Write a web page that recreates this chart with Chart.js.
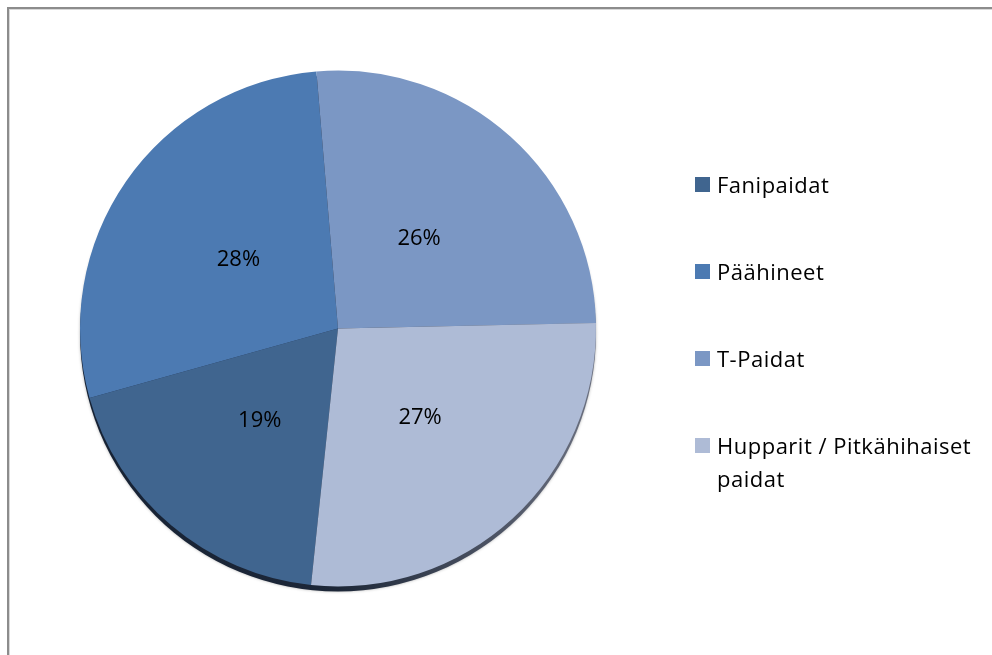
<!DOCTYPE html>
<html>
<head>
<meta charset="utf-8">
<script src="https://cdn.jsdelivr.net/npm/chart.js@4.4.1/dist/chart.umd.min.js"></script>
<style>
  html, body { margin: 0; padding: 0; background: #fff; }
  #wrap { position: relative; width: 992px; height: 655px; overflow: hidden; }
  #frame {
    position: absolute; left: 7px; top: 7px; right: -10px; bottom: -10px;
    border-left: 2px solid #8c8c8c; border-top: 2px solid #8c8c8c;
    box-shadow: inset 1px 1px 0 #d8d8d8;
  }
  #pie { position: absolute; left: 0; top: 0; }
  #legend {
    position: absolute; left: 695px; top: 168px; width: 295px;
    font-family: "Open Sans", sans-serif; font-size: 22px; letter-spacing: 0.5px; color: #000;
  }
  .item { position: relative; padding-left: 22px; line-height: 33px; margin-bottom: 54px; }
  .item span.box {
    position: absolute; left: 0; top: 9px; width: 15px; height: 15px;
  }
</style>
</head>
<body>
<div id="wrap">
  <div id="frame"></div>
  <canvas id="pie" width="992" height="655"></canvas>
  <div id="legend"></div>
</div>
<script>
const categories = ['Fanipaidat', 'Päähineet', 'T-Paidat', 'Hupparit / Pitkähihaiset paidat'];
const shares = [19, 28, 26, 27];
const sliceColors = ['#40658f', '#4c7ab2', '#7b97c4', '#aebbd6'];

// legend on the right, wraps the long label like the original
const legendEl = document.getElementById('legend');
categories.forEach((name, i) => {
  const div = document.createElement('div');
  div.className = 'item';
  div.innerHTML = '<span class="box" style="background:' + sliceColors[i] + '"></span>' + name;
  legendEl.appendChild(div);
});

// dark rim below the pie, drawn once behind all slices
const pieShadow = {
  id: 'pieShadow',
  beforeDatasetsDraw(chart) {
    const arc = chart.getDatasetMeta(0).data[0];
    if (!arc) return;
    const p = arc.getProps(['x', 'y', 'outerRadius']);
    const ctx = chart.ctx;
    ctx.save();
    const g = ctx.createLinearGradient(p.x - p.outerRadius, 0, p.x + p.outerRadius, 0);
    g.addColorStop(0, '#162234');
    g.addColorStop(0.5, '#1d2738');
    g.addColorStop(1, '#6b7080');
    ctx.fillStyle = g;
    ctx.shadowColor = 'rgba(0, 0, 0, 0.3)';
    ctx.shadowBlur = 3;
    ctx.beginPath();
    ctx.arc(p.x, p.y + 5, p.outerRadius, 0, Math.PI * 2);
    ctx.fill();
    ctx.restore();
  }
};

// percentage text inside each slice
const sliceLabels = {
  id: 'sliceLabels',
  afterDatasetsDraw(chart) {
    const ctx = chart.ctx;
    const meta = chart.getDatasetMeta(0);
    const total = shares.reduce((a, b) => a + b, 0);
    ctx.save();
    ctx.font = '22px "Open Sans", sans-serif';
    ctx.fillStyle = '#000';
    ctx.textAlign = 'center';
    ctx.textBaseline = 'middle';
    meta.data.forEach((arc, i) => {
      const p = arc.getProps(['x', 'y', 'startAngle', 'endAngle', 'outerRadius']);
      const mid = (p.startAngle + p.endAngle) / 2;
      const r = p.outerRadius * 0.47;
      const pct = Math.round(shares[i] / total * 100) + '%';
      ctx.fillText(pct, p.x + Math.cos(mid) * r, p.y + Math.sin(mid) * r);
    });
    ctx.restore();
  }
};

new Chart(document.getElementById('pie').getContext('2d'), {
  type: 'pie',
  data: {
    labels: categories,
    datasets: [{
      data: shares,
      backgroundColor: sliceColors,
      borderWidth: 0
    }]
  },
  options: {
    responsive: false,
    animation: false,
    rotation: 186,
    layout: { padding: { left: 80, top: 70, right: 396, bottom: 68 } },
    plugins: {
      legend: { display: false },
      tooltip: { enabled: false }
    }
  },
  plugins: [pieShadow, sliceLabels]
});
</script>
</body>
</html>
